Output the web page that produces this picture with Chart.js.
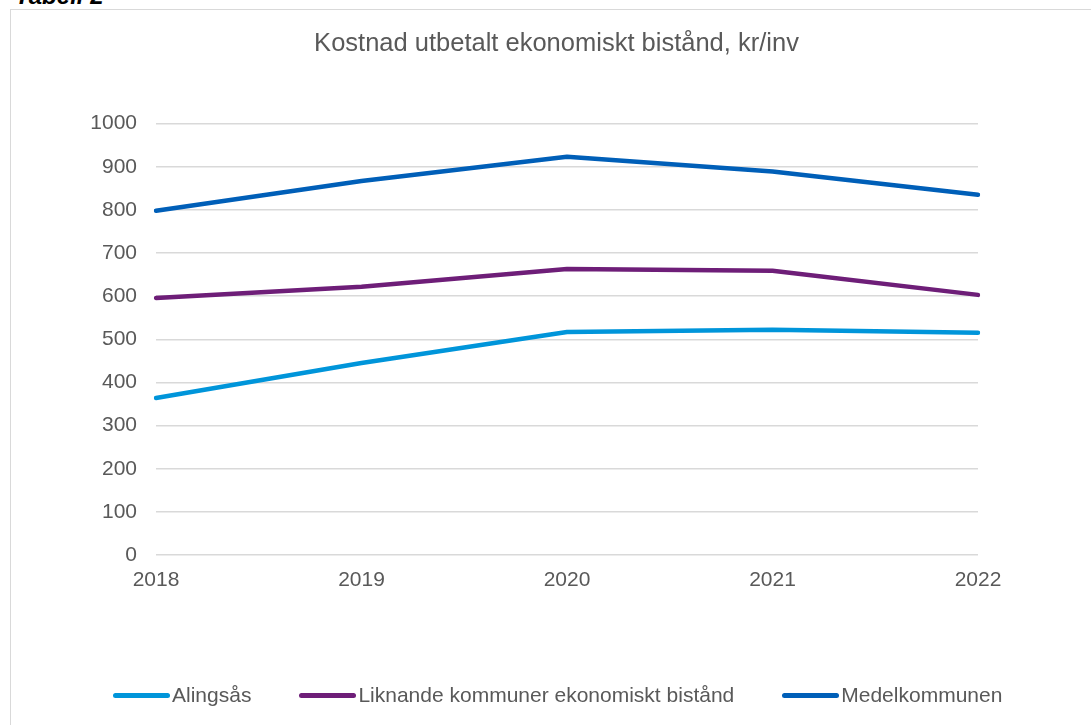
<!DOCTYPE html>
<html>
<head>
<meta charset="utf-8">
<script src="https://cdn.jsdelivr.net/npm/chart.js@4/dist/chart.umd.min.js"></script>
<style>
  html, body { margin: 0; padding: 0; background: #fff; overflow: hidden; }
  body { width: 1091px; height: 725px; position: relative; font-family: "Liberation Sans", Arial, sans-serif; }
  #caption { position: absolute; left: 15px; top: -16px; font: italic bold 24px/24px "Liberation Sans", Arial, sans-serif; color: #000; }
  #frame { position: absolute; left: 10px; top: 9px; width: 1200px; height: 800px; border: 1px solid #d9d9d9; }
  #wrap { position: absolute; left: 0; top: 0; width: 1091px; height: 725px; }
  #legend { position: absolute; left: 113px; top: 683px; display: flex; align-items: center; font-size: 21px; color: #595959; }
  .item { display: flex; align-items: center; margin-right: 48px; }
  .swatch { width: 57px; height: 5px; border-radius: 3px; margin-right: 2px; }
</style>
</head>
<body>
<div id="caption">Tabell 2</div>
<div id="frame"></div>
<div id="wrap"><canvas id="chart"></canvas></div>
<div id="legend"></div>
<script>
// Data
const years = ["2018", "2019", "2020", "2021", "2022"];
const alingsas = [364, 445, 517, 522, 515];
const liknande = [596, 622, 663, 659, 603];
const medel = [798, 867, 923, 889, 835];

const seriesNames = ["Alingsås", "Liknande kommuner ekonomiskt bistånd", "Medelkommunen"];
const seriesColors = ["#0095DA", "#6E1E78", "#005FB8"];

const grey = "#595959";
const font = "'Liberation Sans', Arial, sans-serif";

const ctx = document.getElementById("chart").getContext("2d");
const chart = new Chart(ctx, {
  type: "line",
  data: {
    labels: years,
    datasets: [alingsas, liknande, medel].map((vals, i) => ({
      label: seriesNames[i],
      data: vals,
      borderColor: seriesColors[i],
      backgroundColor: seriesColors[i],
      borderWidth: 4.5,
      borderCapStyle: "round",
      borderJoinStyle: "round",
      pointRadius: 0,
      tension: 0,
      fill: false
    }))
  },
  options: {
    responsive: true,
    maintainAspectRatio: false,
    animation: false,
    layout: { padding: { left: 22, right: 0, top: 0, bottom: 0 } },
    plugins: {
      legend: { display: false },
      tooltip: { enabled: false },
      title: {
        display: true,
        text: "Kostnad utbetalt ekonomiskt bistånd, kr/inv",
        color: grey,
        font: { family: font, size: 25.5, weight: "normal", lineHeight: 1.2 },
        padding: { top: 29, bottom: 64 }
      }
    },
    scales: {
      x: {
        offset: false,
        grid: { display: false },
        border: { display: false },
        ticks: { color: grey, font: { family: font, size: 21 }, padding: 5, maxRotation: 0 },
        afterFit: (s) => { s.height = 170; }
      },
      y: {
        min: 0,
        max: 1000,
        ticks: {
          stepSize: 100,
          color: grey,
          font: { family: font, size: 21 },
          padding: 19,
          callback: (v) => String(v)
        },
        grid: { color: "#d9d9d9", lineWidth: 1.5, drawTicks: false },
        border: { display: false },
        afterFit: (s) => { s.width = 134; }
      },
      // empty right margin so the title centres like the original
      spacer: {
        type: "linear",
        position: "right",
        grid: { display: false },
        border: { display: false },
        ticks: { display: false },
        afterFit: (s) => { s.width = 113; }
      }
    }
  }
});

// Legend built from the datasets
const legendEl = document.getElementById("legend");
chart.data.datasets.forEach((ds) => {
  const item = document.createElement("div");
  item.className = "item";
  const sw = document.createElement("span");
  sw.className = "swatch";
  sw.style.background = ds.borderColor;
  const txt = document.createElement("span");
  txt.textContent = ds.label;
  item.appendChild(sw);
  item.appendChild(txt);
  legendEl.appendChild(item);
});
</script>
</body>
</html>
